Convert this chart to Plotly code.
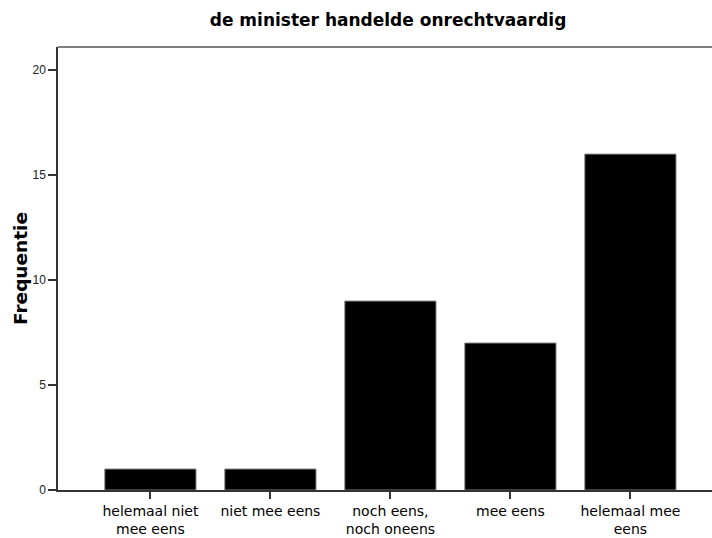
import plotly.graph_objects as go

categories = [
    "helemaal niet<br>mee eens",
    "niet mee eens",
    "noch eens,<br>noch oneens",
    "mee eens",
    "helemaal mee<br>eens",
]
frequencies = [1, 1, 9, 7, 16]
y_ticks = [0, 5, 10, 15, 20]

AXIS_COLOR = "#333333"

fig = go.Figure(
    go.Bar(
        x=list(range(len(categories))),
        y=frequencies,
        width=0.76,
        marker={"color": "#000000", "line": {"color": "#888888", "width": 1}},
    )
)

fig.update_layout(
    width=712,
    height=538,
    paper_bgcolor="white",
    plot_bgcolor="white",
    showlegend=False,
    margin={"l": 58, "r": 0, "t": 47, "b": 48},
    title={
        "text": "<b>de minister handelde onrechtvaardig</b>",
        "x": 0.545,
        "xanchor": "center",
        "y": 0.962,
        "yanchor": "middle",
        "font": {"family": "DejaVu Sans", "size": 17, "color": "#000000"},
    },
)

fig.update_xaxes(
    range=[-0.77, 4.68],
    tickmode="array",
    tickvals=list(range(len(categories))),
    ticktext=categories,
    ticks="outside",
    ticklen=7,
    tickwidth=1.5,
    tickcolor=AXIS_COLOR,
    tickfont={"family": "DejaVu Sans", "size": 14, "color": "#000000"},
    showline=True,
    linecolor=AXIS_COLOR,
    linewidth=1.5,
    showgrid=False,
    zeroline=False,
    automargin=False,
)

fig.update_yaxes(
    range=[0, 21.1],
    tickmode="array",
    tickvals=y_ticks,
    ticks="outside",
    ticklen=8,
    tickwidth=1.5,
    tickcolor=AXIS_COLOR,
    tickfont={"family": "Liberation Sans", "size": 12, "color": "#222222"},
    showline=True,
    linecolor=AXIS_COLOR,
    linewidth=1.5,
    showgrid=False,
    zeroline=False,
    automargin=False,
    title={
        "text": "<b>Frequentie</b>",
        "font": {"family": "DejaVu Sans", "size": 18.5, "color": "#000000"},
        "standoff": 0,
    },
)

# top border of the plot frame
fig.add_shape(
    type="line", xref="paper", yref="paper", x0=0, x1=1, y0=1, y1=1,
    line={"color": "#555555", "width": 1.5},
)

fig.write_html(
    "out.html",
    config={"displayModeBar": False},
    post_script="document.body.style.margin='0';",
)
